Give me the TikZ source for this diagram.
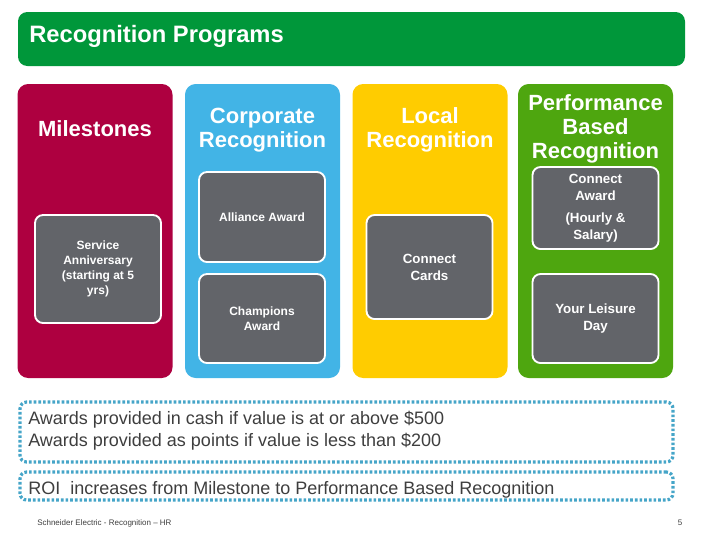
\documentclass[tikz,border=0pt]{standalone}
\usepackage{fontspec}
\setmainfont{Liberation Sans}
\usetikzlibrary{positioning}
\definecolor{titlegreen}{HTML}{00973A}
\definecolor{crimson}{HTML}{AE0040}
\definecolor{skyblue}{HTML}{42B4E6}
\definecolor{sunyellow}{HTML}{FFCC00}
\definecolor{leafgreen}{HTML}{4EA60F}
\definecolor{slate}{HTML}{626469}
\definecolor{dotblue}{HTML}{45A5C8}
\definecolor{bodygray}{HTML}{3E3E3E}

\begin{document}
\begin{tikzpicture}[
  x=0.75pt,y=-0.75pt,
  column/.style={rounded corners=8pt, inner sep=0pt, minimum width=116.25pt, minimum height=220.5pt},
  header/.style={text=white, font=\fontsize{16.5}{18}\selectfont\bfseries, align=center},
  award/.style={draw=white, line width=1.4pt, fill=slate, rounded corners=6pt, inner sep=0pt, minimum width=94.5pt, text=white, align=center},
  smalltxt/.style={font=\fontsize{9}{11.4}\selectfont\bfseries},
  bigtxt/.style={font=\fontsize{10}{12.8}\selectfont\bfseries},
  notebox/.style={draw=dotblue, line width=2.4pt, dash pattern=on 2pt off 1.5pt, rounded corners=5pt, minimum width=489.75pt, inner sep=0pt},
  notetxt/.style={text=bodygray, font=\fontsize{13.5}{16.5}\selectfont, align=left, inner sep=0pt}
]
\useasboundingbox (0,0) rectangle (720,540);

% title bar
\node[fill=titlegreen, rounded corners=7pt, minimum width=500.25pt, minimum height=40.5pt, inner sep=0pt] (titlebar) at (351.5,39) {};
\node[anchor=west, text=white, font=\fontsize{17.8}{20}\selectfont\bfseries, inner sep=0pt] (title) at (29,36) {Recognition Programs};

% the four programme columns
\node[column, fill=crimson] (milestones) at (95,231) {};
\node[column, fill=skyblue] (corporate) at (262.5,231) {};
\node[column, fill=sunyellow] (local) at (430,231) {};
\node[column, fill=leafgreen] (performance) at (595.5,231) {};

\node[header] (milestoneshead) at (95,129) {Milestones};
\node[header] (corporatehead) at (262.5,130) {Corporate\\Recognition};
\node[header] (localhead) at (430,130) {Local\\Recognition};
\node[header] (performancehead) at (595.5,129) {Performance\\Based\\Recognition};

% awards in each column
\node[award, smalltxt, minimum height=81pt] (service) at (98,269) {Service\\Anniversary\\(starting at 5\\yrs)};
\node[award, smalltxt, minimum height=67.5pt] (alliance) at (262,217) {Alliance Award};
\node[award, smalltxt, minimum height=66.75pt] (champions) at (262,318.5) {Champions\\Award};
\node[award, bigtxt, minimum height=78pt] (cards) at (429.5,267) {Connect\\Cards};
\node[award, bigtxt, minimum height=61.5pt] (connectaward) at (595.5,208) {Connect\\Award\\[4pt](Hourly \&\\Salary)};
\node[award, bigtxt, minimum height=66.75pt] (leisure) at (595.5,318.5) {Your Leisure\\Day};

% notes
\node[notebox, minimum height=45pt] (cashbox) at (346.5,432) {};
\node[notetxt, anchor=west] (cashnote) at (28,431) {Awards provided in cash if value is at or above \$500\\Awards provided as points if value is less than \$200};
\node[notebox, minimum height=21pt] (roibox) at (346.5,486) {};
\node[notetxt, anchor=west] (roinote) at (28,490) {ROI\ \ increases from Milestone to Performance Based Recognition};

% footer
\node[anchor=west, font=\fontsize{6}{7}\selectfont, text=bodygray, inner sep=0pt] (footer) at (37,523) {Schneider Electric - Recognition – HR};
\node[font=\fontsize{6}{7}\selectfont, text=bodygray, inner sep=0pt] (pagenum) at (680,523) {5};
\end{tikzpicture}
\end{document}
